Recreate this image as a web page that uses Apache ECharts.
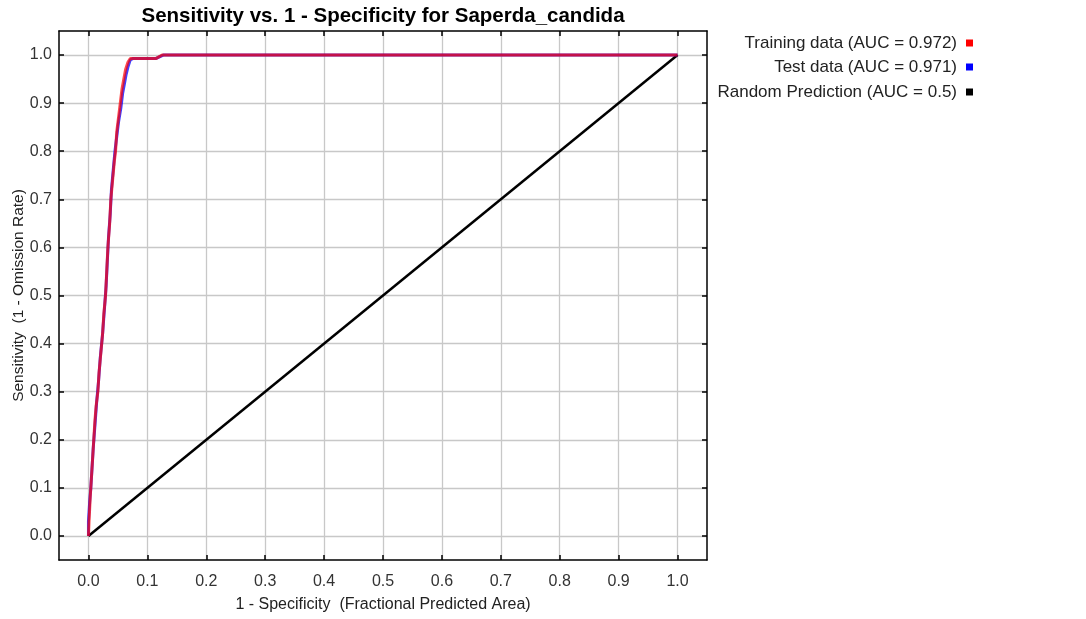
<!DOCTYPE html>
<html>
<head>
<meta charset="utf-8">
<script src="https://cdn.jsdelivr.net/npm/echarts@6/dist/echarts.min.js"></script>
<style>html,body{margin:0;padding:0;background:#fff}#c{width:1086px;height:619px}</style>
</head>
<body>
<div id="c"></div>
<script>
const titleText = 'Sensitivity vs. 1 - Specificity for Saperda_candida';
const xName = '1 - Specificity  (Fractional Predicted Area)';
const yName = 'Sensitivity  (1 - Omission Rate)';
const tickValues = [0, 0.1, 0.2, 0.3, 0.4, 0.5, 0.6, 0.7, 0.8, 0.9, 1.0];
const seriesNames = ['Training data (AUC = 0.972)', 'Test data (AUC = 0.971)', 'Random Prediction (AUC = 0.5)'];
const trainingX = [0, 0.001, 0.003, 0.005, 0.007, 0.009, 0.011, 0.013, 0.016, 0.018, 0.021, 0.024, 0.026, 0.029, 0.031, 0.033, 0.036, 0.038, 0.041, 0.044, 0.046, 0.048, 0.051, 0.054, 0.057, 0.060, 0.063, 0.067, 0.071, 0.115, 0.125, 1.0];
const trainingY = [0, 0.03, 0.08, 0.12, 0.16, 0.20, 0.24, 0.27, 0.30, 0.34, 0.38, 0.42, 0.46, 0.50, 0.55, 0.60, 0.65, 0.70, 0.74, 0.78, 0.80, 0.84, 0.87, 0.90, 0.93, 0.95, 0.97, 0.985, 0.993, 0.993, 1.0, 1.0];
const testX = [0, 0, 0.002, 0.004, 0.006, 0.008, 0.011, 0.014, 0.017, 0.020, 0.024, 0.027, 0.030, 0.032, 0.034, 0.037, 0.039, 0.042, 0.045, 0.048, 0.051, 0.055, 0.058, 0.061, 0.064, 0.067, 0.071, 0.076, 0.115, 0.127, 1.0];
const testY = [0, 0.03, 0.07, 0.10, 0.14, 0.18, 0.23, 0.28, 0.32, 0.37, 0.42, 0.47, 0.52, 0.57, 0.62, 0.67, 0.72, 0.76, 0.80, 0.83, 0.86, 0.89, 0.92, 0.94, 0.96, 0.975, 0.99, 0.993, 0.993, 1.0, 1.0];
const randomX = [0, 1];
const randomY = [0, 1];

const zip = (a, b) => a.map((v, i) => [v, b[i]]);
const FONT = 'Liberation Sans';
const fmt = v => v.toFixed(1);

function xAx(pos, show) {
  return {
    type: 'value', min: -0.05, max: 1.05, position: pos,
    name: show ? xName : '', nameLocation: 'middle', nameGap: 37, nameMoveOverlap: false,
    nameTextStyle: { fontFamily: FONT, fontSize: 16, color: '#222' },
    axisLine: { show: true, onZero: false, lineStyle: { color: '#000', width: 1.5 } },
    axisTick: { show: true, inside: true, length: 5, customValues: tickValues, lineStyle: { color: '#000', width: 1.5 } },
    axisLabel: { show: show, customValues: tickValues, formatter: fmt, margin: 14, fontFamily: FONT, fontSize: 16, color: '#333' },
    splitLine: { show: show, lineStyle: { color: '#c8c8c8', width: 1.3 } }
  };
}
function yAx(pos, show) {
  return {
    type: 'value', min: -0.05, max: 1.05, position: pos,
    name: show ? yName : '', nameLocation: 'middle', nameGap: 32, nameMoveOverlap: false,
    nameTextStyle: { fontFamily: FONT, fontSize: 15.5, color: '#222' },
    axisLine: { show: true, onZero: false, lineStyle: { color: '#000', width: 1.5 } },
    axisTick: { show: true, inside: true, length: 5, customValues: tickValues, lineStyle: { color: '#000', width: 1.5 } },
    axisLabel: { show: show, customValues: tickValues, formatter: fmt, margin: 7, fontFamily: FONT, fontSize: 16, color: '#333' },
    splitLine: { show: show, lineStyle: { color: '#c8c8c8', width: 1.3 } }
  };
}
function leg(i, top) {
  return {
    data: [{ name: seriesNames[i], icon: 'rect' }],
    right: 108, top: top, itemWidth: 7, itemHeight: 7, align: 'right',
    selectedMode: false,
    textStyle: { fontFamily: FONT, fontSize: 17, lineHeight: 18, color: '#222', padding: [0, 4, 0, 0] }
  };
}

const chart = echarts.init(document.getElementById('c'), null, { renderer: 'canvas' });
chart.setOption({
  animation: false,
  backgroundColor: '#fff',
  title: { text: titleText, left: 378, textAlign: 'center', top: 1,
    textStyle: { fontFamily: FONT, fontSize: 20.5, fontWeight: 'bold', color: '#000' } },
  legend: [leg(0, 29), leg(1, 53), leg(2, 78)],
  grid: { left: 59, right: 379, top: 31, bottom: 59, containLabel: false, outerBoundsMode: 'none' },
  xAxis: [xAx('bottom', true), xAx('top', false)],
  yAxis: [yAx('left', true), yAx('right', false)],
  series: [
    { name: seriesNames[1], type: 'line', data: zip(testX, testY), showSymbol: false, symbol: 'none',
      lineStyle: { color: '#0000ff', width: 3, opacity: 0.75 }, itemStyle: { color: '#0000ff' }, z: 3 },
    { name: seriesNames[0], type: 'line', data: zip(trainingX, trainingY), showSymbol: false, symbol: 'none',
      lineStyle: { color: '#ff0000', width: 3, opacity: 0.7 }, itemStyle: { color: '#ff0000' }, z: 4 },
    { name: seriesNames[2], type: 'line', data: zip(randomX, randomY), showSymbol: false, symbol: 'none',
      lineStyle: { color: '#000', width: 2.5 }, itemStyle: { color: '#000' }, z: 2 }
  ]
});
</script>
</body>
</html>
